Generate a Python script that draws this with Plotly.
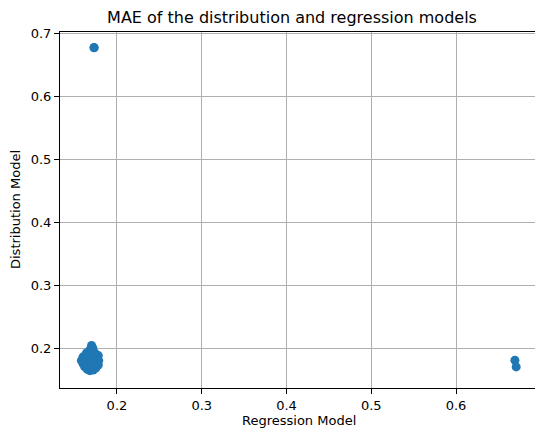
import plotly.graph_objects as go

# Data
regression_mae = [0.1729, 0.1731, 0.6695, 0.6710,
                  0.1700, 0.1715, 0.1680, 0.1640, 0.1600, 0.1580, 0.1600, 0.1620,
                  0.1650, 0.1680, 0.1720, 0.1750, 0.1780, 0.1785, 0.1780, 0.1740,
                  0.1700, 0.1680, 0.1700, 0.1660, 0.1720, 0.1650, 0.1730, 0.1690]
distribution_mae = [0.6770, 0.6765, 0.1805, 0.1700,
                    0.2040, 0.2000, 0.1970, 0.1920, 0.1860, 0.1800, 0.1750, 0.1700,
                    0.1660, 0.1640, 0.1650, 0.1680, 0.1730, 0.1800, 0.1880, 0.1920,
                    0.1880, 0.1800, 0.1750, 0.1850, 0.1820, 0.1760, 0.1710, 0.1700]
x_ticks = [0.2, 0.3, 0.4, 0.5, 0.6]
y_ticks = [0.2, 0.3, 0.4, 0.5, 0.6, 0.7]

FONT = "DejaVu Sans"

fig = go.Figure()
fig.add_trace(go.Scatter(
    x=regression_mae, y=distribution_mae, mode="markers",
    marker=dict(color="#1f77b4", size=9, line=dict(width=0)),
    showlegend=False, hoverinfo="x+y",
))

axis_common = dict(
    showgrid=True, gridcolor="#b0b0b0", gridwidth=0.8,
    zeroline=False, showline=True, linecolor="black", linewidth=1,
    ticks="outside", ticklen=5, tickwidth=1, tickcolor="black",
    tickfont=dict(family=FONT, size=13, color="black"),
)

fig.update_layout(
    width=535, height=428,
    margin=dict(l=60, r=0, t=32, b=40),
    paper_bgcolor="white", plot_bgcolor="white",
    font=dict(family=FONT, color="black"),
    title=dict(text="MAE of the distribution and regression models",
               x=292 / 535, xref="container", xanchor="center",
               y=1 - 17 / 428, yref="container", yanchor="middle",
               font=dict(family=FONT, size=16, color="black")),
    xaxis=dict(range=[0.1328, 0.6932], tickvals=x_ticks,
               ticktext=[f"{v:.1f}" for v in x_ticks], mirror=True, **axis_common),
    yaxis=dict(range=[0.1365, 0.7016], tickvals=y_ticks,
               ticktext=[f"{v:.1f}" for v in y_ticks], mirror=False, **axis_common),
    annotations=[
        dict(text="Regression Model", x=(298.5 - 60) / 475, y=(388 - 420) / 356,
             xref="paper", yref="paper", xanchor="center", yanchor="middle",
             showarrow=False, font=dict(family=FONT, size=13, color="black")),
        dict(text="Distribution Model", x=(15 - 60) / 475, y=0.5, textangle=-90,
             xref="paper", yref="paper", xanchor="center", yanchor="middle",
             showarrow=False, font=dict(family=FONT, size=13, color="black")),
    ],
)

fig.write_html("out.html")
